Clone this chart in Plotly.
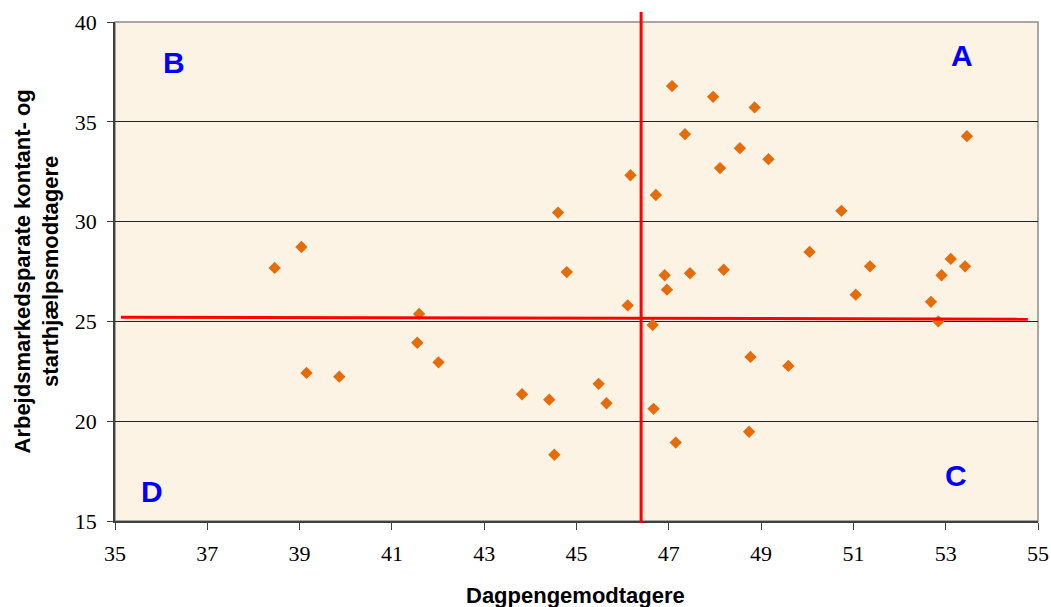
import plotly.graph_objects as go

# Data
dagpenge = [38.46, 39.04, 39.15, 39.86, 41.55, 41.59, 42.01, 43.82, 44.41, 44.52,
            44.60, 44.79, 45.48, 45.65, 46.11, 46.17, 46.65, 46.67, 46.72, 46.91,
            46.96, 47.07, 47.15, 47.35, 47.46, 47.96, 48.11, 48.19, 48.54, 48.74,
            48.77, 48.86, 49.16, 49.59, 50.05, 50.74, 51.05, 51.36, 52.68, 52.84,
            52.91, 53.11, 53.42, 53.46]
kontant = [27.68, 28.73, 22.42, 22.23, 23.93, 25.37, 22.95, 21.35, 21.08, 18.32,
           30.45, 27.47, 21.87, 20.90, 25.80, 32.32, 24.82, 20.62, 31.33, 27.31,
           26.59, 36.79, 18.93, 34.38, 27.41, 36.25, 32.68, 27.59, 33.68, 19.47,
           23.22, 35.72, 33.13, 22.77, 28.48, 30.54, 26.34, 27.76, 25.98, 25.00,
           27.31, 28.13, 27.76, 34.28]

# Quadrant reference lines
vline_x = 46.40
hline_x = [35.13, 54.78]
hline_y = [25.21, 25.11]

# Quadrant labels
quad_labels = ["A", "B", "C", "D"]
quad_x = [53.35, 36.28, 53.22, 35.80]
quad_y = [38.32, 37.97, 17.30, 16.50]

x_ticks = list(range(35, 56, 2))
y_ticks = list(range(15, 41, 5))

fig = go.Figure()
fig.add_trace(go.Scatter(
    x=dagpenge, y=kontant, mode="markers",
    marker=dict(symbol="diamond", size=9.5, color="#E46C0A", line=dict(width=0)),
    showlegend=False, hoverinfo="x+y"))

shapes = [
    # top/right border
    dict(type="rect", xref="paper", yref="paper", x0=0, x1=1, y0=0, y1=1,
         line=dict(color="#8C8C8C", width=1.5), layer="below"),
    # horizontal red line
    dict(type="line", xref="x", yref="y", x0=hline_x[0], x1=hline_x[1],
         y0=hline_y[0], y1=hline_y[1], line=dict(color="#FF0000", width=3)),
    # vertical red line (extends slightly outside plot area)
    dict(type="line", xref="x", yref="paper", x0=vline_x, x1=vline_x,
         y0=-0.004, y1=1.02, line=dict(color="#FF0000", width=3)),
]

annotations = []
for t, xx, yy in zip(quad_labels, quad_x, quad_y):
    annotations.append(dict(x=xx, y=yy, xref="x", yref="y", text="<b>" + t + "</b>", showarrow=False,
                            font=dict(family="Liberation Sans, Arial", size=30, color="#0000FF"),
                            xanchor="center", yanchor="middle"))

annotations.append(dict(
    x=(575 - 115) / 923, y=(521 - 595) / 499, xref="paper", yref="paper",
    text="<b>Dagpengemodtagere</b>", showarrow=False,
    font=dict(family="Liberation Sans, Arial", size=22, color="#000000"),
    xanchor="center", yanchor="middle"))
annotations.append(dict(
    x=(36 - 115) / 923, y=0.5, xref="paper", yref="paper",
    text="<b>Arbejdsmarkedsparate kontant- og<br>starthjælpsmodtagere</b>",
    showarrow=False, textangle=-90,
    font=dict(family="Liberation Sans, Arial", size=22, color="#000000"),
    xanchor="center", yanchor="middle"))

fig.update_layout(
    width=1051, height=607,
    margin=dict(l=115, r=13, t=22, b=86, autoexpand=False),
    paper_bgcolor="#FFFFFF", plot_bgcolor="#FDF3E4",
    shapes=shapes, annotations=annotations,
    xaxis=dict(range=[35, 55], tickmode="array", tickvals=x_ticks,
               ticktext=[str(v) for v in x_ticks], automargin=False,
               showgrid=False, zeroline=False,
               showline=True, linecolor="#404040", linewidth=1.5,
               ticks="outside", ticklen=7, tickcolor="#404040", tickwidth=1,
               ticklabelstandoff=5,
               tickfont=dict(family="Liberation Serif, Times New Roman", size=22, color="#000000")),
    yaxis=dict(range=[15, 40], tickmode="array", tickvals=y_ticks,
               ticktext=[str(v) for v in y_ticks], automargin=False,
               showgrid=True, gridcolor="#222222", gridwidth=1, zeroline=False,
               showline=True, linecolor="#404040", linewidth=1.5,
               ticks="outside", ticklen=6, tickcolor="#404040", tickwidth=1,
               ticklabelstandoff=6,
               tickfont=dict(family="Liberation Serif, Times New Roman", size=22, color="#000000")),
)

fig.write_html("out.html", config={"displayModeBar": False},
               post_script="document.body.style.margin='0px';document.body.style.overflow='hidden';")
